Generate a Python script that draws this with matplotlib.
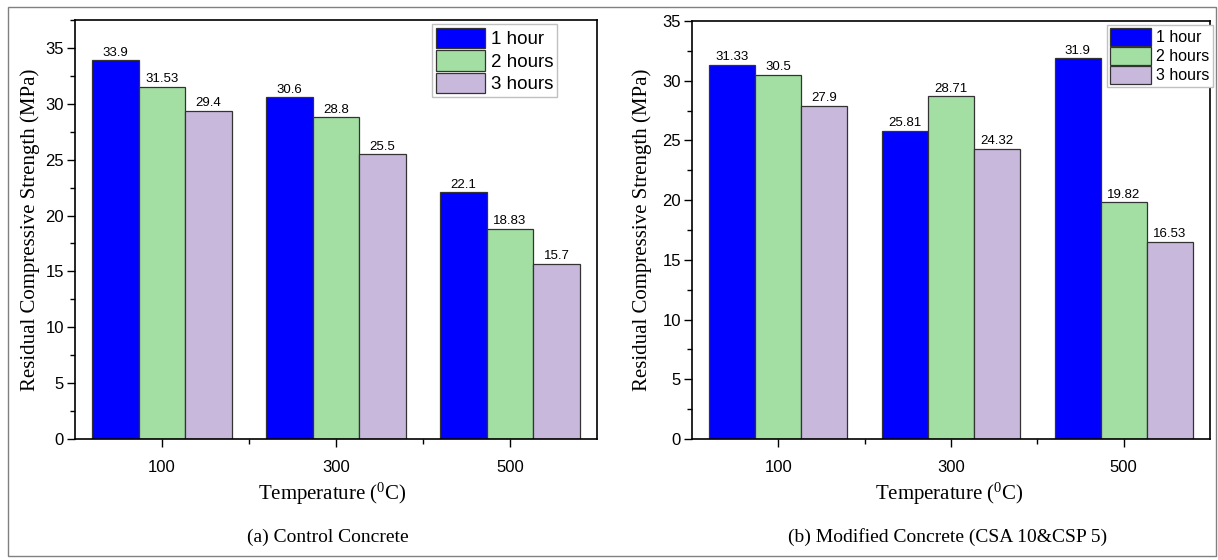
import matplotlib
matplotlib.use("Agg")
import matplotlib.pyplot as plt
import numpy as np
from matplotlib.patches import Rectangle
from matplotlib.ticker import MultipleLocator

temperatures = ["100", "300", "500"]
durations = ["1 hour", "2 hours", "3 hours"]

# residual compressive strength (MPa), rows = durations
control = [
    [33.9, 30.6, 22.1],
    [31.53, 28.8, 18.83],
    [29.4, 25.5, 15.7],
]
modified = [
    [31.33, 25.81, 31.9],
    [30.5, 28.71, 19.82],
    [27.9, 24.32, 16.53],
]

colors = ["#0000FF", "#A3DEA3", "#C8B9DC"]
serif = "Liberation Serif"
sans = "Liberation Sans"

plt.rcParams["mathtext.fontset"] = "custom"
plt.rcParams["mathtext.rm"] = serif
plt.rcParams["mathtext.it"] = serif

fig = plt.figure(figsize=(12.18, 5.6), dpi=100)

# light outer frame
fig.patches.append(Rectangle((8 / 1218, 4 / 560), 1208 / 1218, 549 / 560, transform=fig.transFigure,
                             fill=False, edgecolor="#808080", lw=1.0))


def draw_panel(ax, data, ytop, legend_fs, legend_anchor, caption, label_x, caption_x):
    x = np.arange(len(temperatures))
    width = 0.267
    for i, (name, vals) in enumerate(zip(durations, data)):
        pos = x + (i - 1) * width
        bars = ax.bar(pos, vals, width, color=colors[i], edgecolor="#333333", lw=0.9, label=name)
        for b, v in zip(bars, vals):
            ax.text(b.get_x() + b.get_width() / 2, v + 0.12, f"{v:g}", ha="center", va="bottom",
                    fontsize=9.5, family=sans)
    ax.set_xlim(-0.5, 2.5)
    ax.set_ylim(0, ytop)
    ax.set_xticks(x)
    ax.set_xticklabels(temperatures, family=sans, fontsize=12)
    ax.set_xticks([0.5, 1.5], minor=True)
    ax.yaxis.set_major_locator(MultipleLocator(5))
    ax.yaxis.set_minor_locator(MultipleLocator(2.5))
    for lab in ax.get_yticklabels():
        lab.set_family(sans)
        lab.set_fontsize(12)
    ax.tick_params(which="both", direction="out", top=False, right=False, width=1.0)
    ax.tick_params(which="major", length=6, pad=9)
    ax.tick_params(axis="y", which="major", pad=2)
    ax.tick_params(which="minor", length=3.5)
    for s in ax.spines.values():
        s.set_linewidth(1.2)
    ax.set_ylabel("Residual Compressive Strength (MPa)", family=serif, fontsize=15)
    fig.text(label_x, 1 - 494 / 560, "Temperature ($^{0}$C)", ha="center", va="center",
             family=serif, fontsize=15)
    fig.text(caption_x, 1 - 537 / 560, caption, ha="center", va="center", family=serif, fontsize=14)
    ax.legend(loc="upper right", bbox_to_anchor=legend_anchor,
              prop={"family": sans, "size": legend_fs}, frameon=True, fancybox=False,
              edgecolor="#c0c0c0", framealpha=1, handlelength=2.6, handleheight=1.3,
              labelspacing=0.1, handletextpad=0.3, borderpad=0.2, borderaxespad=0.0)


ax1 = fig.add_axes([75 / 1218, 121 / 560, 522 / 1218, 419 / 560])
ax2 = fig.add_axes([692 / 1218, 121 / 560, 518 / 1218, 418 / 560])

draw_panel(ax1, control, 37.5, 13.5, (0.923, 0.99), "(a) Control Concrete", 332 / 1218, 328 / 1218)
draw_panel(ax2, modified, 35, 11.5, (1.005, 0.99), "(b) Modified Concrete (CSA 10&CSP 5)",
           949 / 1218, 948 / 1218)
ax1.yaxis.set_label_coords(-0.068, 0.5)
ax2.yaxis.set_label_coords(-0.077, 0.5)

fig.savefig("out.png", dpi=100)
